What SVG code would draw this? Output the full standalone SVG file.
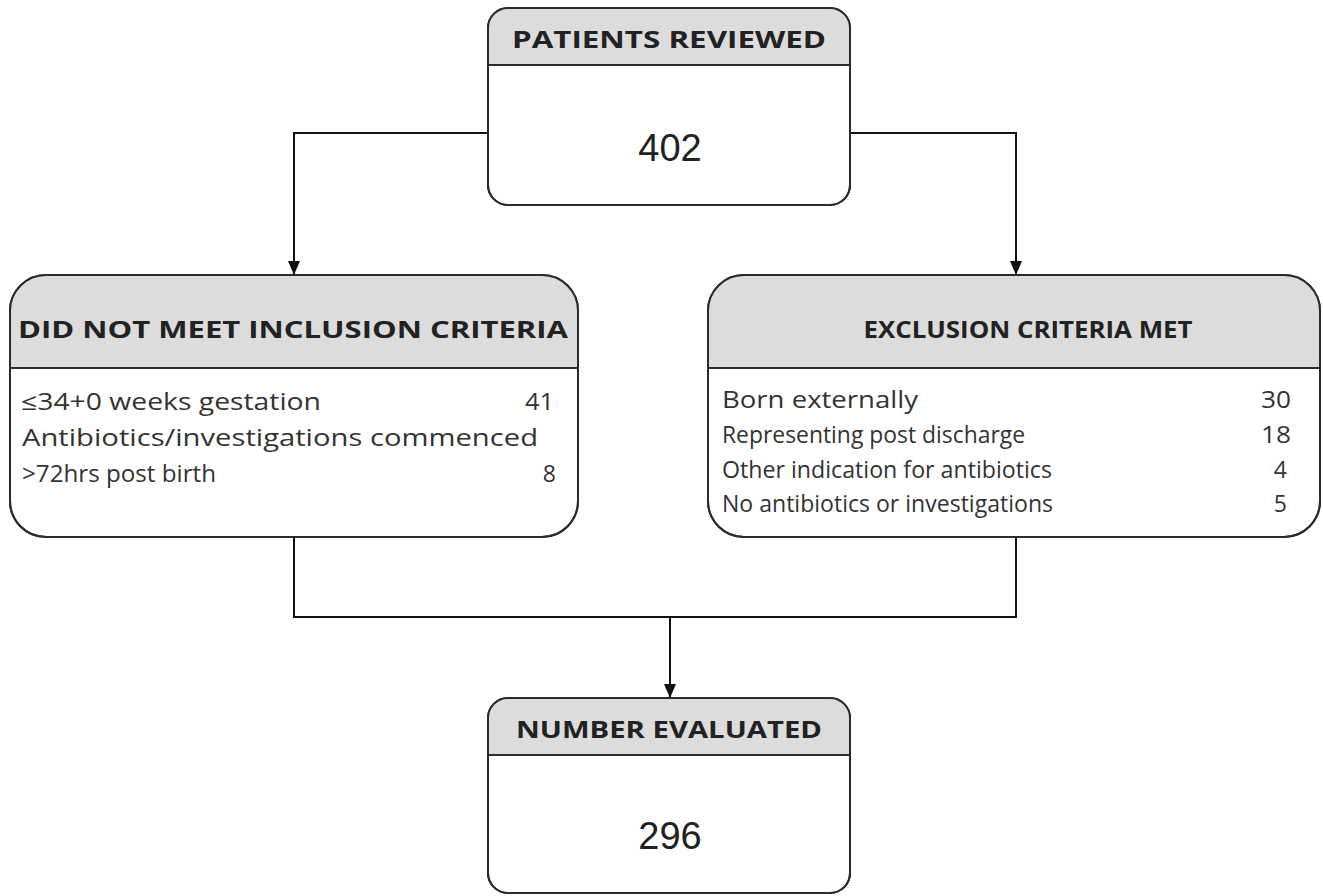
<svg xmlns="http://www.w3.org/2000/svg" width="1323" height="896" viewBox="0 0 1323 896">
<style>
.box{fill:#fff;stroke:#2b2b2b;stroke-width:2}
.hdr{fill:#dcdcdc}
.div{stroke:#2b2b2b;stroke-width:2}
.h{font-family:"Open Sans","Noto Sans",sans-serif;font-weight:bold;font-size:23px;fill:#222;text-anchor:middle}
.n{font-family:"Liberation Sans",Arial,sans-serif;font-size:38px;fill:#222;text-anchor:middle}
.t{font-family:"Open Sans","Noto Sans",sans-serif;font-size:23px;fill:#333}
.r{text-anchor:end}
.c{fill:none;stroke:#111;stroke-width:2}
</style>
<defs>
<marker id="arr" markerWidth="14" markerHeight="14" refX="13" refY="6" orient="auto" markerUnits="userSpaceOnUse" viewBox="0 0 14 12">
<path d="M0,0 L14,6 L0,12 z" fill="#111"/>
</marker>
<clipPath id="cTop"><rect x="488" y="8" width="362" height="197" rx="20"/></clipPath>
<clipPath id="cLeft"><rect x="10" y="275" width="568" height="262" rx="36"/></clipPath>
<clipPath id="cRight"><rect x="708" y="275" width="612" height="262" rx="36"/></clipPath>
<clipPath id="cBot"><rect x="488" y="698" width="362" height="195" rx="20"/></clipPath>
</defs>
<g id="connectors">
<path class="c" d="M488,133 H294 V274" marker-end="url(#arr)"/>
<path class="c" d="M850,133 H1016 V274" marker-end="url(#arr)"/>
<path class="c" d="M294,537 V617 H1016 V537"/>
<path class="c" d="M670,617 V697" marker-end="url(#arr)"/>
</g>
<g id="patients-reviewed">
<rect class="box" x="488" y="8" width="362" height="197" rx="20"/>
<rect class="hdr" x="488" y="8" width="362" height="57" clip-path="url(#cTop)"/>
<line class="div" x1="488" y1="65" x2="850" y2="65"/>
<rect x="488" y="8" width="362" height="197" rx="20" fill="none" stroke="#2b2b2b" stroke-width="2"/>
<text class="h" x="669" y="48" textLength="314" lengthAdjust="spacingAndGlyphs">PATIENTS REVIEWED</text>
<text class="n" x="670" y="161">402</text>
</g>
<g id="did-not-meet">
<rect class="box" x="10" y="275" width="568" height="262" rx="36"/>
<rect class="hdr" x="10" y="275" width="568" height="93" clip-path="url(#cLeft)"/>
<line class="div" x1="10" y1="368" x2="578" y2="368"/>
<rect x="10" y="275" width="568" height="262" rx="36" fill="none" stroke="#2b2b2b" stroke-width="2"/>
<text class="h" x="293" y="338" textLength="550" lengthAdjust="spacingAndGlyphs">DID NOT MEET INCLUSION CRITERIA</text>
<text class="t" x="21" y="410" textLength="300" lengthAdjust="spacingAndGlyphs">≤34+0 weeks gestation</text>
<text class="t r" x="554" y="410" textLength="29" lengthAdjust="spacingAndGlyphs">41</text>
<text class="t" x="22" y="446" textLength="516" lengthAdjust="spacingAndGlyphs">Antibiotics/investigations commenced</text>
<text class="t" x="22" y="482" textLength="194" lengthAdjust="spacingAndGlyphs">&gt;72hrs post birth</text>
<text class="t r" x="556" y="482">8</text>
</g>
<g id="exclusion-met">
<rect class="box" x="708" y="275" width="612" height="262" rx="36"/>
<rect class="hdr" x="708" y="275" width="612" height="93" clip-path="url(#cRight)"/>
<line class="div" x1="708" y1="368" x2="1320" y2="368"/>
<rect x="708" y="275" width="612" height="262" rx="36" fill="none" stroke="#2b2b2b" stroke-width="2"/>
<text class="h" x="1028" y="338" textLength="329" lengthAdjust="spacingAndGlyphs">EXCLUSION CRITERIA MET</text>
<text class="t" x="722" y="408" textLength="196" lengthAdjust="spacingAndGlyphs">Born externally</text>
<text class="t r" x="1291" y="408" textLength="30" lengthAdjust="spacingAndGlyphs">30</text>
<text class="t" x="722" y="443" textLength="303" lengthAdjust="spacingAndGlyphs">Representing post discharge</text>
<text class="t r" x="1291" y="443" textLength="30" lengthAdjust="spacingAndGlyphs">18</text>
<text class="t" x="722" y="478" textLength="330" lengthAdjust="spacingAndGlyphs">Other indication for antibiotics</text>
<text class="t r" x="1287" y="478">4</text>
<text class="t" x="722" y="512" textLength="331" lengthAdjust="spacingAndGlyphs">No antibiotics or investigations</text>
<text class="t r" x="1287" y="512">5</text>
</g>
<g id="number-evaluated">
<rect class="box" x="488" y="698" width="362" height="195" rx="20"/>
<rect class="hdr" x="488" y="698" width="362" height="57" clip-path="url(#cBot)"/>
<line class="div" x1="488" y1="755" x2="850" y2="755"/>
<rect x="488" y="698" width="362" height="195" rx="20" fill="none" stroke="#2b2b2b" stroke-width="2"/>
<text class="h" x="669" y="738" textLength="306" lengthAdjust="spacingAndGlyphs">NUMBER EVALUATED</text>
<text class="n" x="670" y="849">296</text>
</g>
</svg>
